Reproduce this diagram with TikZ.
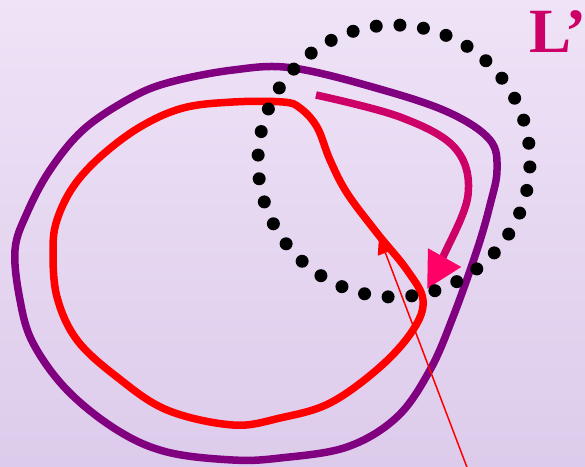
\documentclass[tikz,border=0pt]{standalone}
\usepackage{fontspec}
\setmainfont{Liberation Serif}
\usetikzlibrary{arrows.meta}

\definecolor{lilactop}{RGB}{239,227,247}
\definecolor{lilacbot}{RGB}{221,203,235}
\definecolor{loopcol}{RGB}{128,0,128}
\definecolor{flowcol}{RGB}{204,0,102}
\definecolor{headcol}{RGB}{255,0,102}

\begin{document}
\begin{tikzpicture}[x=1pt,y=-1pt,
  thickloop/.style={line width=7.5pt,line join=round}]
\shade[top color=lilactop,bottom color=lilacbot] (0,0) rectangle (585,466);
\useasboundingbox (0,0) rectangle (585,466);
% outer loop
\draw[thickloop,loopcol] plot[smooth cycle,tension=0.6] coordinates {(293,68) (383,90) (450,113) (490,140) (497,170) (490,205) (477,250) (453,317) (430,370) (397,417) (347,447) (280,458) (233,460) (167,452) (117,430) (67,390) (33,343) (20,300) (15,250) (27,213) (50,170) (83,130) (127,100) (167,83) (233,70)};
% inner loop
\draw[thickloop,red] plot[smooth cycle,tension=0.6] coordinates {(283,102) (300,108) (317,127) (330,160) (347,193) (377,233) (407,270) (423,300) (413,330) (380,367) (330,403) (280,418) (233,425) (167,410) (117,377) (77,340) (57,297) (53,250) (57,220) (73,187) (100,157) (140,127) (183,108) (233,102)};
% deformation arrow
\draw[thickloop,flowcol,-{Triangle[length=36pt,width=36pt,color=headcol,fill=headcol]}] plot[smooth,tension=0.6] coordinates {(316,95) (400,117) (455,148) (468,195) (443,257) (427,289)};
% dotted disc
\foreach \a in {2.5,12.5,...,352.5}
  \fill (394,161) ++(\a:136) circle (6.5);
\coordinate (tail) at (468,470);
\coordinate (hit) at (379,236);
\draw[red,line width=1.5pt,-{Triangle[length=18pt,width=16pt]}] (tail) -- (hit);
\node[flowcol,anchor=base west,inner sep=0pt,font=\fontsize{63}{63}\selectfont\bfseries] (lab) at (529,52) {L'};
\end{tikzpicture}
\end{document}
